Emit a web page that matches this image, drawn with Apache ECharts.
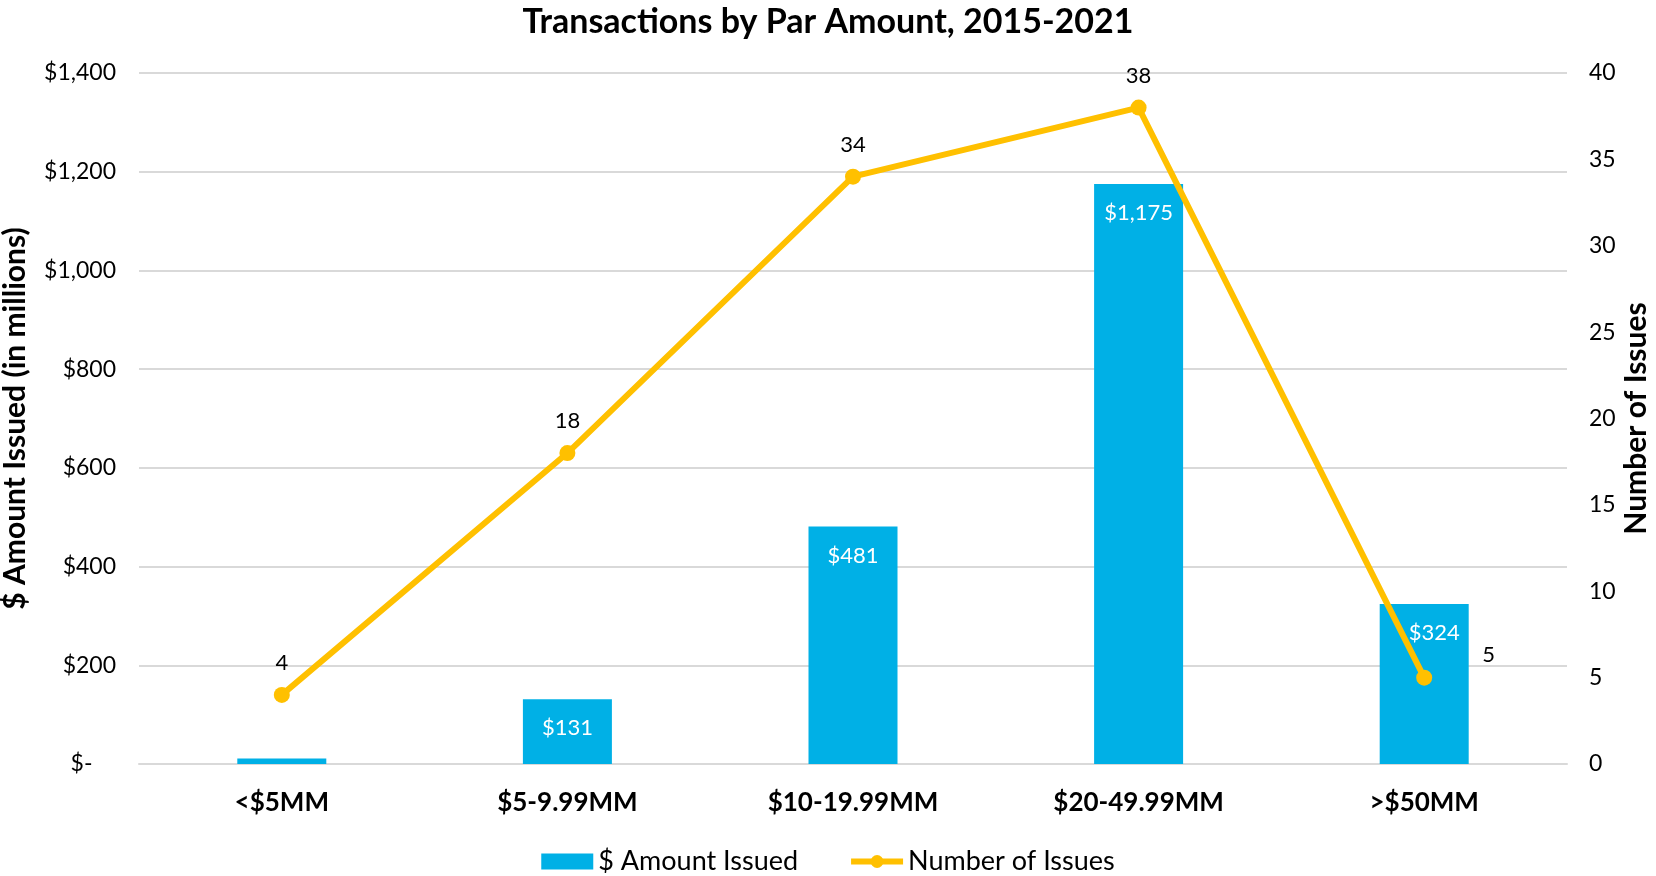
<!DOCTYPE html>
<html>
<head>
<meta charset="utf-8">
<script src="https://cdn.jsdelivr.net/npm/echarts@6/dist/echarts.min.js"></script>
<style>
  html, body { margin: 0; padding: 0; background: #fff; }
  #main { width: 1656px; height: 876px; }
</style>
</head>
<body>
<div id="main"></div>
<script>
const categories = ['<$5MM', '$5-9.99MM', '$10-19.99MM', '$20-49.99MM', '>$50MM']
const amountIssued = [11, 131, 481, 1175, 324]
const numberOfIssues = [4, 18, 34, 38, 5]

const font = 'Lato, "Open Sans", sans-serif'

let myChart = echarts.init(document.getElementById('main'))

// first bar is too small to carry a label, last one is nudged right
let barData = amountIssued.map(function (v, i) {
    if (i === 0) return { value: v, label: { show: false } }
    if (i === amountIssued.length - 1) return { value: v, label: { offset: [10, 0] } }
    return v
})
// last point's label sits to the right
let lineData = numberOfIssues.map(function (v, i) {
    if (i === numberOfIssues.length - 1) {
        return { value: v, label: { position: 'right', distance: 50, offset: [0, -23] } }
    }
    return v
})

myChart.setOption({
    textStyle: { fontFamily: font },
    title: {
        text: 'Transactions by Par Amount, 2015-2021',
        left: 'center',
        top: 0,
        textStyle: { fontSize: 34, fontWeight: 'bold', color: '#000', fontFamily: font }
    },
    grid: { left: 139, right: 89, top: 73, bottom: 112, outerBoundsMode: 'none', containLabel: false },
    legend: {
        bottom: -4,
        left: 'center',
        itemWidth: 52,
        itemHeight: 16,
        itemGap: 50,
        lineStyle: { width: 6 },
        textStyle: { fontSize: 27, color: '#000', fontFamily: font },
        data: [
            { name: '$ Amount Issued', icon: 'rect' },
            { name: 'Number of Issues' }
        ]
    },
    xAxis: {
        type: 'category',
        data: categories,
        axisLine: { lineStyle: { color: '#d9d9d9', width: 2 } },
        axisTick: { show: false },
        axisLabel: { fontSize: 26, fontWeight: 'bold', color: '#000', margin: 26, fontFamily: font }
    },
    yAxis: [
        {
            type: 'value',
            min: 0,
            max: 1400,
            interval: 200,
            name: '$ Amount Issued (in millions)',
            nameLocation: 'middle',
            nameGap: 109,
            nameMoveOverlap: false,
            nameTextStyle: { fontSize: 30, fontWeight: 'bold', color: '#000', fontFamily: font },
            axisLine: { show: false },
            axisTick: { show: false },
            splitLine: { lineStyle: { color: '#d9d9d9', width: 2 } },
            axisLabel: {
                fontSize: 23,
                color: '#000',
                margin: 23,
                formatter: function (v) {
                    return v === 0 ? '$-    ' : '$' + v.toLocaleString('en-US')
                }
            }
        },
        {
            type: 'value',
            min: 0,
            max: 40,
            interval: 5,
            name: 'Number of Issues',
            nameLocation: 'middle',
            nameGap: 54,
            nameMoveOverlap: false,
            nameTextStyle: { fontSize: 30, fontWeight: 'bold', color: '#000', fontFamily: font },
            axisLine: { show: false },
            axisTick: { show: false },
            splitLine: { show: false },
            axisLabel: { fontSize: 23, color: '#000', margin: 22 }
        }
    ],
    series: [
        {
            name: '$ Amount Issued',
            type: 'bar',
            yAxisIndex: 0,
            barWidth: 89,
            itemStyle: { color: '#00B0E6' },
            label: {
                show: true,
                position: 'insideTop',
                distance: 18,
                color: '#fff',
                fontSize: 22,
                formatter: function (p) {
                    return '$' + p.value.toLocaleString('en-US')
                }
            },
            data: barData
        },
        {
            name: 'Number of Issues',
            type: 'line',
            yAxisIndex: 1,
            symbol: 'circle',
            symbolSize: 16,
            lineStyle: { color: '#FFC000', width: 6 },
            itemStyle: { color: '#FFC000' },
            label: {
                show: true,
                position: 'top',
                distance: 13,
                color: '#000',
                fontSize: 22
            },
            z: 3,
            data: lineData
        }
    ]
})
</script>
</body>
</html>
